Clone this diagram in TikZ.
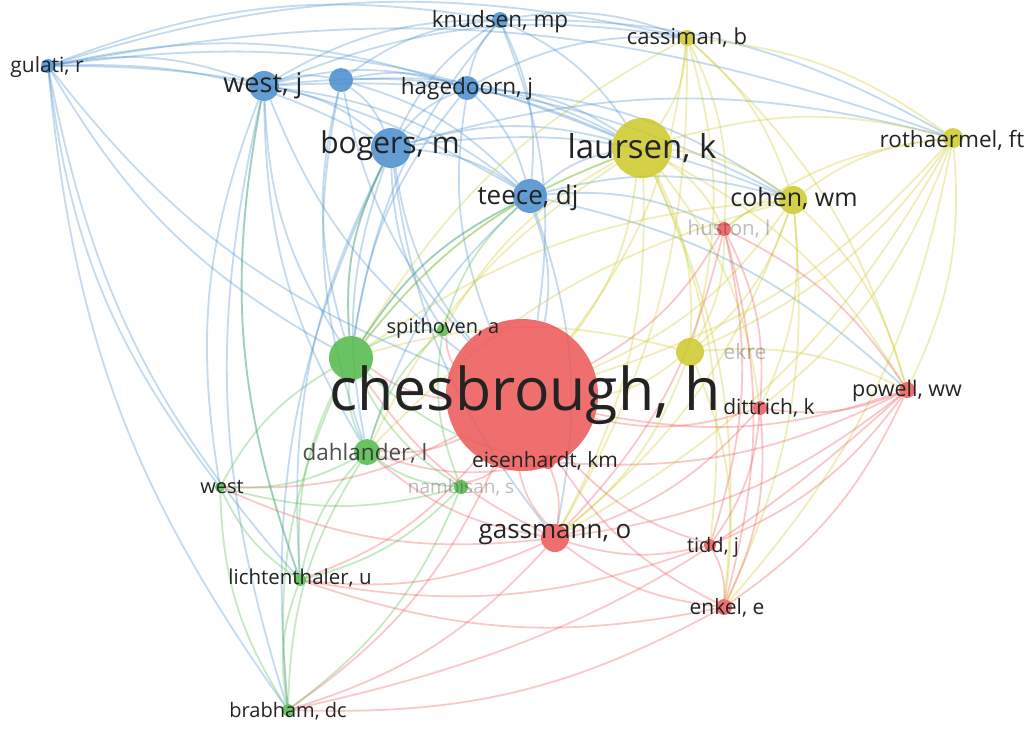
\documentclass[tikz,border=0pt]{standalone}
\usepackage{fontspec}
\setmainfont{Open Sans}
\usetikzlibrary{backgrounds}

\definecolor{vred}{RGB}{236,86,86}
\definecolor{vblue}{RGB}{70,140,205}
\definecolor{vgreen}{RGB}{80,185,70}
\definecolor{vyellow}{RGB}{205,200,40}
\definecolor{labgrey}{RGB}{35,35,35}
\newcommand{\lblsize}[1]{\fontsize{#1}{#1}\selectfont}
\newdimen\edgeax \newdimen\edgeay \newdimen\edgebx \newdimen\edgeby

\tikzset{
  bub/.style={circle, inner sep=0pt, fill=#1, fill opacity=0.85, draw=none},
  lab/.style={text=labgrey, inner sep=0pt},
  faint/.style={text=labgrey, text opacity=0.3, inner sep=0pt},
  edge/.style={draw=#1, line width=1.8pt, draw opacity=0.32},
}

\begin{document}
\begin{tikzpicture}[x=1pt, y=-1pt]
    \useasboundingbox (0,0) rectangle (1032,729);

    % items
    \node[bub=vred, minimum size=152] (ches) at (522,395) {};
    \node[bub=vyellow, minimum size=60] (laur) at (642,148) {};
    \node[bub=vblue, minimum size=40] (bog) at (391,148) {};
    \node[bub=vblue, minimum size=30] (westj) at (264,86) {};
    \node[bub=vblue, minimum size=24] (bl) at (341,80) {};
    \node[bub=vblue, minimum size=24] (hag) at (467,88) {};
    \node[bub=vblue, minimum size=16] (knud) at (500,20) {};
    \node[bub=vblue, minimum size=14] (gul) at (48,66) {};
    \node[bub=vblue, minimum size=34] (tee) at (530,196) {};
    \node[bub=vyellow, minimum size=16] (cass) at (687,38) {};
    \node[bub=vyellow, minimum size=20] (roth) at (953,138) {};
    \node[bub=vyellow, minimum size=28] (coh) at (793,200) {};
    \node[bub=vred, minimum size=14] (hus) at (724,229) {};
    \node[bub=vyellow, minimum size=28] (yel) at (690,352) {};
    \node[bub=vred, minimum size=16] (pow) at (907,390) {};
    \node[bub=vred, minimum size=14] (dit) at (760,408) {};
    \node[bub=vgreen, minimum size=44] (grn) at (351,358) {};
    \node[bub=vgreen, minimum size=12] (spit) at (443,330) {};
    \node[bub=vgreen, minimum size=26] (dah) at (367,452) {};
    \node[bub=vred, minimum size=14] (eis) at (548,462) {};
    \node[bub=vgreen, minimum size=14] (nam) at (461,487) {};
    \node[bub=vgreen, minimum size=10] (west) at (220,487) {};
    \node[bub=vred, minimum size=28] (gas) at (555,538) {};
    \node[bub=vred, minimum size=12] (tidd) at (710,545) {};
    \node[bub=vgreen, minimum size=12] (lich) at (300,580) {};
    \node[bub=vred, minimum size=16] (enk) at (724,607) {};
    \node[bub=vgreen, minimum size=12] (brab) at (288,710) {};

    % links, bent away from the middle of the map
    \begin{pgfonlayer}{background}
    \foreach \a/\b/\c in {
      gul/westj/vblue, gul/bog/vblue, gul/hag/vblue, gul/tee/vblue, gul/laur/vblue,
      gul/grn/vblue, gul/ches/vblue, gul/lich/vblue, gul/brab/vblue, gul/roth/vblue,
      gul/cass/vblue, gul/knud/vblue, gul/west/vblue,
      westj/bog/vblue, westj/hag/vblue, westj/knud/vblue, westj/tee/vblue, westj/laur/vblue,
      westj/ches/vblue, westj/grn/vblue, westj/dah/vblue, westj/west/vblue, westj/lich/vblue,
      westj/bl/vblue, westj/cass/vblue, westj/coh/vblue, westj/brab/vblue,
      bl/bog/vblue, bl/hag/vblue, bl/knud/vblue, bl/tee/vblue, bl/laur/vblue, bl/ches/vblue,
      bl/grn/vblue, bl/dah/vblue,
      bog/hag/vblue, bog/knud/vblue, bog/tee/vblue, bog/laur/vblue, bog/ches/vblue,
      bog/grn/vblue, bog/dah/vblue, bog/gas/vblue, bog/coh/vblue, bog/spit/vblue, bog/roth/vblue,
      bog/lich/vblue, bog/brab/vblue,
      hag/knud/vblue, hag/tee/vblue, hag/laur/vblue, hag/ches/vblue, hag/cass/vblue,
      hag/coh/vblue, hag/grn/vblue,
      knud/tee/vblue, knud/laur/vblue, knud/cass/vblue, knud/roth/vblue, knud/ches/vblue,
      knud/grn/vblue,
      tee/laur/vblue, tee/ches/vblue, tee/coh/vblue, tee/grn/vblue, tee/dah/vblue,
      tee/gas/vblue, tee/pow/vblue, tee/hus/vblue,
      laur/cass/vyellow, laur/roth/vyellow, laur/coh/vyellow, laur/ches/vyellow,
      laur/yel/vyellow, laur/grn/vyellow, laur/dah/vyellow, laur/gas/vyellow,
      laur/spit/vyellow, laur/pow/vyellow, laur/enk/vyellow, laur/hus/vyellow,
      laur/dit/vyellow, laur/tidd/vyellow,
      cass/roth/vyellow, cass/coh/vyellow, cass/ches/vyellow, cass/yel/vyellow,
      cass/hus/vyellow, cass/pow/vyellow, cass/grn/vyellow, cass/gas/vyellow,
      roth/coh/vyellow, roth/ches/vyellow, roth/pow/vyellow, roth/yel/vyellow,
      roth/hus/vyellow, roth/gas/vyellow, roth/dit/vyellow, roth/enk/vyellow,
      coh/ches/vyellow, coh/yel/vyellow, coh/hus/vyellow, coh/pow/vyellow, coh/gas/vyellow,
      coh/enk/vyellow, coh/grn/vyellow, coh/dah/vyellow, coh/dit/vyellow,
      yel/ches/vyellow, yel/gas/vyellow, yel/grn/vyellow, yel/hus/vyellow, yel/pow/vyellow,
      yel/enk/vyellow,
      ches/hus/vred, ches/pow/vred, ches/dit/vred, ches/gas/vred, ches/tidd/vred,
      ches/enk/vred, ches/eis/vred, ches/grn/vred, ches/dah/vred, ches/spit/vred,
      ches/west/vred, ches/lich/vred, ches/brab/vred, ches/nam/vred,
      hus/pow/vred, hus/dit/vred, hus/gas/vred, hus/enk/vred, hus/tidd/vred,
      pow/dit/vred, pow/gas/vred, pow/enk/vred, pow/tidd/vred, pow/eis/vred,
      gas/enk/vred, gas/tidd/vred, gas/dit/vred, gas/eis/vred, gas/grn/vred,
      gas/dah/vred, gas/lich/vred, gas/west/vred, gas/brab/vred,
      enk/tidd/vred, enk/dit/vred, enk/lich/vred, enk/brab/vred, pow/brab/vred,
      dit/tidd/vred, eis/dah/vred, tidd/lich/vred,
      grn/spit/vgreen, grn/dah/vgreen, grn/west/vgreen, grn/lich/vgreen, grn/brab/vgreen,
      grn/nam/vgreen, grn/eis/vgreen, grn/bog/vgreen, grn/tee/vgreen, grn/laur/vgreen,
      dah/west/vgreen, dah/lich/vgreen, dah/brab/vgreen, dah/nam/vgreen, dah/spit/vgreen,
      lich/west/vgreen, lich/brab/vgreen, lich/nam/vgreen, lich/westj/vgreen,
      west/brab/vgreen, west/nam/vgreen, brab/nam/vgreen, spit/nam/vgreen, spit/tee/vgreen}
    {
      \pgfextractx{\edgeax}{\pgfpointanchor{\a}{center}}
      \pgfextracty{\edgeay}{\pgfpointanchor{\a}{center}}
      \pgfextractx{\edgebx}{\pgfpointanchor{\b}{center}}
      \pgfextracty{\edgeby}{\pgfpointanchor{\b}{center}}
      \pgfmathsetmacro\crs{((\edgeax-520)/100)*((\edgeby-\edgeay)/100)-((\edgeay+380)/100)*((\edgebx-\edgeax)/100)}
      \pgfmathsetmacro\bnd{ifthenelse(\crs<0,15,-15)}
      \draw[edge=\c] (\a) to[bend left=\bnd] (\b);
    }
    \end{pgfonlayer}

    % labels
    \node[lab, font={\lblsize{59}}] (ches-t) at (525,395) {chesbrough, h};
    \node[lab, font={\lblsize{33}}] (laur-t) at (642,148) {laursen, k};
    \node[lab, font={\lblsize{30}}] (bog-t) at (390,146) {bogers, m};
    \node[lab, font={\lblsize{27}}] (westj-t) at (263,86) {west, j};
    \node[lab, font={\lblsize{22.5}}] (hag-t) at (467,89) {hagedoorn, j};
    \node[lab, font={\lblsize{22.5}}] (knud-t) at (500,22) {knudsen, mp};
    \node[lab, font={\lblsize{21}}] (gul-t) at (47,67) {gulati, r};
    \node[lab, font={\lblsize{26}}] (tee-t) at (528,198) {teece, dj};
    \node[lab, font={\lblsize{22}}] (cass-t) at (687,38) {cassiman, b};
    \node[lab, font={\lblsize{22.5}}] (roth-t) at (952,140) {rothaermel, ft};
    \node[lab, font={\lblsize{25}}] (coh-t) at (794,199) {cohen, wm};
    \node[faint, font={\lblsize{20.5}}] (hus-t) at (729,229) {huston, l};
    \node[faint, font={\lblsize{21}}] (yel-t) at (745,352) {ekre};
    \node[lab, font={\lblsize{21.5}}] (pow-t) at (907,391) {powell, ww};
    \node[lab, font={\lblsize{21}}] (dit-t) at (769,408) {dittrich, k};
    \node[lab, font={\lblsize{20}}] (spit-t) at (443,328) {spithoven, a};
    \node[lab, font={\lblsize{22.5}}, text opacity=0.8] (dah-t) at (365,453) {dahlander, l};
    \node[lab, font={\lblsize{21}}] (eis-t) at (545,461) {eisenhardt, km};
    \node[faint, font={\lblsize{19}}] (nam-t) at (461,487) {nambisan, s};
    \node[lab, font={\lblsize{20}}] (west-t) at (222,487) {west};
    \node[lab, font={\lblsize{26}}] (gas-t) at (555,535) {gassmann, o};
    \node[lab, font={\lblsize{20}}] (tidd-t) at (713,547) {tidd, j};
    \node[lab, font={\lblsize{20.5}}] (lich-t) at (300,578) {lichtenthaler, u};
    \node[lab, font={\lblsize{21}}] (enk-t) at (727,608) {enkel, e};
    \node[lab, font={\lblsize{20}}] (brab-t) at (288,711) {brabham, dc};
\end{tikzpicture}
\end{document}
